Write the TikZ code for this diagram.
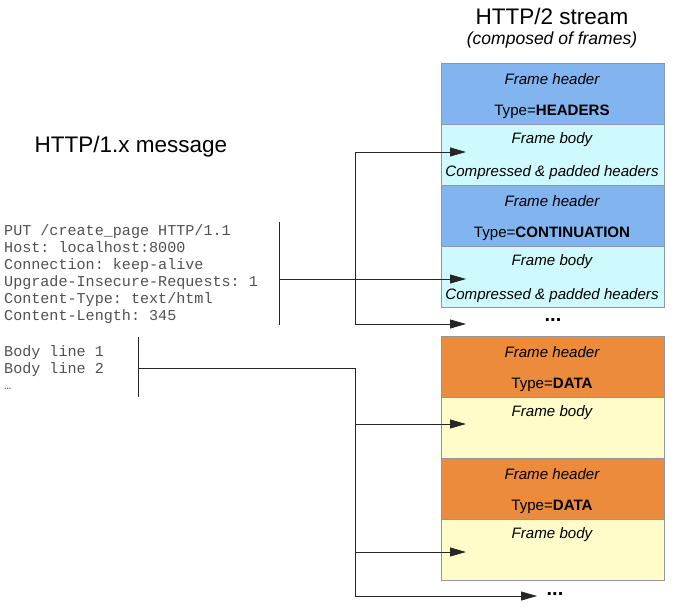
\documentclass[tikz,border=0pt]{standalone}
\usepackage{fontspec}
\setmainfont{Liberation Sans}
\setmonofont{Liberation Mono}
\usetikzlibrary{arrows.meta}
\definecolor{hdrblue}{RGB}{130,180,240}
\definecolor{bodycyan}{RGB}{206,250,254}
\definecolor{hdrorange}{RGB}{236,139,60}
\definecolor{bodyyellow}{RGB}{255,252,202}
\definecolor{frameedge}{RGB}{140,150,165}
\definecolor{codegray}{RGB}{80,80,80}
\tikzset{
  frame/.style={draw=frameedge, line width=0.8pt, minimum width=223pt, inner sep=0pt, anchor=north west},
  hdr/.style={frame, fill=hdrblue, minimum height=61pt},
  bdy/.style={frame, fill=bodycyan, minimum height=61pt},
  ohdr/.style={frame, fill=hdrorange, minimum height=61pt},
  obdy/.style={frame, fill=bodyyellow, minimum height=61pt},
  flabel/.style={font=\fontsize{15.1}{17}\selectfont\itshape, inner sep=0pt},
  tlabel/.style={font=\fontsize{15.1}{17}\selectfont, inner sep=0pt},
  code/.style={font=\fontsize{15.1}{17}\selectfont\ttfamily, text=codegray, anchor=base west, inner sep=0pt},
  title/.style={font=\fontsize{22.5}{26}\selectfont, inner sep=0pt},
  conn/.style={line width=0.8pt, draw=black!85},
  arr/.style={conn, -{Triangle[length=16pt,width=9pt]}},
  dots/.style={font=\fontsize{20}{22}\selectfont\bfseries, inner sep=0pt}
}
\begin{document}
\begin{tikzpicture}[x=1pt,y=-1pt]
\useasboundingbox (0,0) rectangle (698,610);

% titles
\node[title] (t2) at (552,16) {HTTP/2 stream};
\node[font=\fontsize{17.5}{20}\selectfont\itshape, inner sep=0pt] (t2s) at (552,40) {(composed of frames)};
\node[title] (t1) at (131,147) {HTTP/1.x message};

% HTTP/1.x message text
\node[code] (c1) at (4,235) {PUT /create\_page HTTP/1.1};
\node[code] (c2) at (4,252) {Host: localhost:8000};
\node[code] (c3) at (4,269) {Connection: keep-alive};
\node[code] (c4) at (4,286) {Upgrade-Insecure-Requests: 1};
\node[code] (c5) at (4,303) {Content-Type: text/html};
\node[code] (c6) at (4,320) {Content-Length: 345};
\node[code] (b1) at (4,356) {Body line 1};
\node[code] (b2) at (4,373) {Body line 2};
\node[code] (b3) at (4,389) {\fontsize{12}{14}\selectfont …};

% frames
\node[hdr] (f1) at (441,63) {};
\node[bdy] (f2) at (441,124) {};
\node[hdr] (f3) at (441,185) {};
\node[bdy] (f4) at (441,246) {};
\node[ohdr] (f5) at (441,336) {};
\node[obdy] (f6) at (441,397) {};
\node[ohdr] (f7) at (441,458) {};
\node[obdy] (f8) at (441,519) {};

% frame labels
\node[flabel] (l1a) at (552,79) {Frame header};
\node[tlabel] (l1b) at (552,112) {Type=\textbf{HEADERS}};
\node[flabel] (l2a) at (552,140) {Frame body};
\node[flabel] (l2b) at (552,173) {Compressed \& padded headers};
\node[flabel] (l3a) at (552,201) {Frame header};
\node[tlabel] (l3b) at (552,234) {Type=\textbf{CONTINUATION}};
\node[flabel] (l4a) at (552,262) {Frame body};
\node[flabel] (l4b) at (552,296) {Compressed \& padded headers};
\node[flabel] (l5a) at (552,352) {Frame header};
\node[tlabel] (l5b) at (552,385) {Type=\textbf{DATA}};
\node[flabel] (l6a) at (552,413) {Frame body};
\node[flabel] (l7a) at (552,474) {Frame header};
\node[tlabel] (l7b) at (552,507) {Type=\textbf{DATA}};
\node[flabel] (l8a) at (552,535) {Frame body};

% ellipses
\node[dots] (d1) at (553,320) {...};
\node[dots] (d2) at (555,594) {...};

% bracket coordinates
\coordinate (hbT) at (279,222);
\coordinate (hbB) at (279,325);
\coordinate (hbM) at (279,279);
\coordinate (bbT) at (138,337);
\coordinate (bbB) at (138,397);
\coordinate (bbM) at (138,368);
\coordinate (j1) at (355,152);
\coordinate (j2) at (355,324);
\coordinate (j3) at (355,368);
\coordinate (j4) at (355,596);
\coordinate (a1) at (466,152);
\coordinate (a2) at (466,279);
\coordinate (a3) at (466,324);
\coordinate (a4) at (466,424);
\coordinate (a5) at (466,552);
\coordinate (a6) at (537,596);

% header bracket
\draw[conn] (hbT) -- (hbB);
\draw[arr] (hbM) -- (a2);
\draw[conn] (j1) -- (j2);
\draw[arr] (j1) -- (a1);
\draw[arr] (j2) -- (a3);

% body bracket
\draw[conn] (bbT) -- (bbB);
\draw[conn] (bbM) -- (j3) -- (j4);
\draw[arr] (j3 |- a4) -- (a4);
\draw[arr] (j3 |- a5) -- (a5);
\draw[arr] (j4) -- (a6);
\end{tikzpicture}
\end{document}
